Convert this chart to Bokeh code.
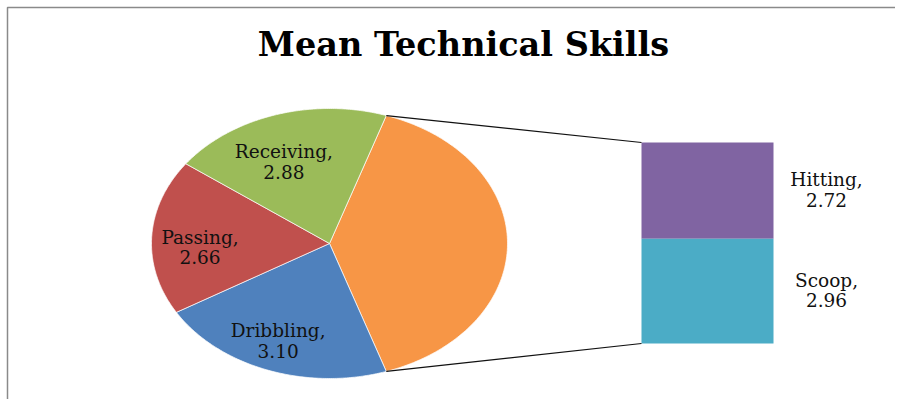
import numpy as np
from bokeh.plotting import figure
from bokeh.models import Range1d, ColumnDataSource
from bokeh.embed import file_html
from bokeh.resources import INLINE
from bokeh.core.properties import value

# ---------------- data ----------------
title_text = "Mean Technical Skills"
pie_labels = ["Dribbling", "Passing", "Receiving"]
pie_values = [3.10, 2.66, 2.88]
bar_labels = ["Hitting", "Scoop"]
bar_values = [2.72, 2.96]

# ---------------- style / layout ----------------
pie_colors = ["#4F81BD", "#C0504D", "#9BBB59"]
other_color = "#F79646"
bar_colors = ["#8064A2", "#4BACC6"]
FONT = "DejaVu Serif"

W, H = 895, 399
CX, CY = 329.0, 243.0        # pie centre (px)
RX, RY = 178.0, 135.0        # pie radii (picture is stretched horizontally)
BAR_LEFT, BAR_RIGHT = 641.0, 773.0
BAR_TOP, BAR_BOTTOM = 142.0, 343.0
LABEL_F = 0.70
LABEL_DX, LABEL_DY = -7.0, 9.5

p = figure(width=W, height=H, output_backend="svg", toolbar_location=None,
           x_range=Range1d(0, W), y_range=Range1d(H, 0),
           x_axis_type=None, y_axis_type=None, min_border=0,
           outline_line_color=None, background_fill_color="white",
           border_fill_color="white")
p.grid.visible = False

def pt(a):
    """point on the ellipse at clockwise angle a (radians) from 12 o'clock"""
    return CX + RX * np.sin(a), CY - RY * np.cos(a)

# ---------------- pie ----------------
other_value = sum(bar_values)
total = sum(pie_values) + other_value
other_span = 2 * np.pi * other_value / total
start = np.pi / 2 - other_span / 2

slice_vals = [other_value] + pie_values
slice_cols = [other_color] + pie_colors
xs, ys, mids = [], [], []
a0 = start
for v in slice_vals:
    a1 = a0 + 2 * np.pi * v / total
    t = np.linspace(a0, a1, 120)
    ex, ey = pt(t)
    xs.append([CX] + list(ex))
    ys.append([CY] + list(ey))
    mids.append((a0 + a1) / 2)
    a0 = a1
p.patches(xs, ys, fill_color=slice_cols, line_color="white", line_width=1,
          line_alpha=0.7)

# ---------------- bar of pie ----------------
scale = (BAR_BOTTOM - BAR_TOP) / other_value
tops, bottoms = [], []
y = BAR_TOP
for v in bar_values:
    tops.append(y)
    y += v * scale
    bottoms.append(y)
p.quad(left=BAR_LEFT, right=BAR_RIGHT, top=tops, bottom=bottoms,
       fill_color=bar_colors, line_color=None)

# connector lines
ox0, oy0 = pt(start)
ox1, oy1 = pt(start + other_span)
p.line([ox0, BAR_LEFT], [oy0, BAR_TOP], line_color="#111111", line_width=1.2)
p.line([ox1, BAR_LEFT], [oy1, bottoms[-1]], line_color="#111111", line_width=1.2)

# ---------------- labels ----------------
lx, ly, l1, l2 = [], [], [], []
for name, v, m in zip(pie_labels, pie_values, mids[1:]):
    x0, y0 = CX + LABEL_F * RX * np.sin(m), CY - LABEL_F * RY * np.cos(m)
    lx.append(x0 + LABEL_DX + (2 if name == "Passing" else -1))
    ly.append(y0 + LABEL_DY)
    l1.append(name + ",")
    l2.append(f"{v:.2f}")
for name, v, t0, b0 in zip(bar_labels, bar_values, tops, bottoms):
    lx.append(BAR_RIGHT + 53)
    ly.append((t0 + b0) / 2)
    l1.append(name + ",")
    l2.append(f"{v:.2f}")

src = ColumnDataSource(dict(x=lx, y1=[v - 11 for v in ly],
                            y2=[v + 9 for v in ly], t1=l1, t2=l2))
for col in ("1", "2"):
    p.text(x="x", y="y" + col, text="t" + col, source=src,
           text_font=value(FONT), text_font_size="18.5px",
           text_color="#111111", text_align="center",
           text_baseline="alphabetic")

# title
p.text(x=[463], y=[44], text=[title_text], text_font=value(FONT),
       text_font_size="33.5px", text_font_style="bold", text_color="black",
       text_align="center", text_baseline="alphabetic")

# chart frame (top and left edges visible)
p.line([7, 7, W], [H, 7, 7], line_color="#8a8a8a", line_width=1.5)

open("out.html", "w").write(file_html(p, INLINE))
